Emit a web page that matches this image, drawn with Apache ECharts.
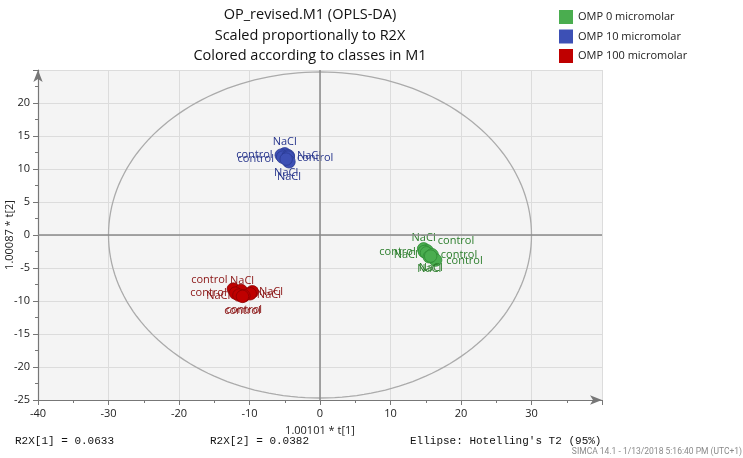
<!DOCTYPE html>
<html><head><meta charset="utf-8">
<script src="https://cdn.jsdelivr.net/npm/echarts@6/dist/echarts.min.js"></script>
<style>html,body{margin:0;padding:0;background:#fff}#chart{width:743px;height:458px}</style>
</head><body><div id="chart"></div>
<script>
// ---------------- data ----------------
const classNames = ['OMP 0 micromolar', 'OMP 10 micromolar', 'OMP 100 micromolar'];

const omp0X = [14.7, 15.2, 14.8, 15.1, 15.9, 16.4, 15.5, 15.7];
const omp0Y = [-2.1, -2.4, -2.5, -2.7, -3.0, -3.8, -3.3, -3.2];
const omp0Names = ['NaCl', 'control', 'control', 'NaCl', 'control', 'control', 'NaCl', 'NaCl'];

const omp10X = [-5.0, -5.5, -5.3, -4.5, -4.5, -4.4, -4.8];
const omp10Y = [12.3, 12.1, 11.8, 12.0, 11.8, 11.1, 11.5];
const omp10Names = ['NaCl', 'control', 'control', 'NaCl', 'control', 'NaCl', 'NaCl'];

const omp100X = [-12.3, -11.2, -12.0, -11.5, -9.6, -9.9, -10.8, -11.0];
const omp100Y = [-8.2, -8.4, -8.8, -9.1, -8.6, -8.9, -9.2, -9.3];
const omp100Names = ['control', 'NaCl', 'control', 'NaCl', 'NaCl', 'NaCl', 'control', 'control'];

const xAxisMin = -40, xAxisMax = 40, xAxisStep = 10;
const yAxisMin = -25, yAxisMax = 25, yAxisStep = 5;
const xHiddenTickLabels = [40];
const yHiddenTickLabels = [25];

// Hotelling's T2 (95%) ellipse semi-axes
const ellipseSemiX = 30.0;
const ellipseSemiY = 24.7;

const xAxisName = '1.00101 * t[1]';
const yAxisName = '1.00087 * t[2]';
const titleLines = ['OP_revised.M1 (OPLS-DA)', 'Scaled proportionally to R2X', 'Colored according to classes in M1'];
const footerStats = ['R2X[1] = 0.0633', 'R2X[2] = 0.0382', "Ellipse: Hotelling's T2 (95%)"];
const footerStamp = 'SIMCA 14.1 - 1/13/2018 5:16:40 PM (UTC+1)';

// ---------------- label placement (style only) ----------------
const omp0LabelPos = ['top', 'right', 'left', 'left', 'right', 'right', 'bottom', 'bottom'];
const omp0LabelShift = [[0, 3], [2, -10], [0, 0], [0, 2], [0, 0], [2, 1], [0, -2], [0, -2]];
const omp10LabelPos = ['top', 'left', 'left', 'right', 'right', 'bottom', 'bottom'];
const omp10LabelShift = [[0, 2], [0, 0], [0, 2], [0, 0], [0, 1], [0, 1], [0, 0]];
const omp100LabelPos = ['left', 'top', 'left', 'left', 'right', 'right', 'bottom', 'bottom'];
const omp100LabelShift = [[3, -9], [1, 5], [0, 0], [0, 1], [-2, 0], [-2, 1], [0, 0], [0, 0]];

const fillColors = ['#4aad4f', '#3d50b5', '#bf0000'];
const edgeColors = ['#2f8a35', '#2a3a92', '#8c0000'];
const labelColors = ['#2b7d2b', '#27358c', '#8a1414'];
const labelShifts = [omp0LabelShift, omp10LabelShift, omp100LabelShift];

function buildItems(xs, ys, names, pos) {
  return xs.map((x, i) => ({
    value: [x, ys[i]],
    name: names[i],
    label: { position: pos[i] }
  }));
}

const groups = [
  buildItems(omp0X, omp0Y, omp0Names, omp0LabelPos),
  buildItems(omp10X, omp10Y, omp10Names, omp10LabelPos),
  buildItems(omp100X, omp100Y, omp100Names, omp100LabelPos)
];

const chart = echarts.init(document.getElementById('chart'), null, { renderer: 'canvas' });

const axisCommon = {
  axisLine: { onZero: false, lineStyle: { color: '#777', width: 1.2 }, symbol: ['none', 'arrow'], symbolSize: [7, 12] },
  axisTick: { show: true, length: 5, lineStyle: { color: '#777' } },
  minorTick: { show: true, splitNumber: 2, length: 3, lineStyle: { color: '#777' } },
  splitLine: { show: true, lineStyle: { color: '#dcdcdc', width: 1 } },
  nameTextStyle: { fontSize: 11, color: '#222', fontFamily: 'Open Sans' }
};

const ellipseSeries = {
  type: 'custom',
  name: 'ellipse',
  silent: true,
  z: 1,
  data: [[0, 0]],
  renderItem: function (params, api) {
    const pts = [];
    const n = 180;
    for (let k = 0; k <= n; k++) {
      const t = (k / n) * Math.PI * 2;
      pts.push(api.coord([ellipseSemiX * Math.cos(t), ellipseSemiY * Math.sin(t)]));
    }
    return { type: 'polyline', shape: { points: pts }, style: { stroke: '#ababab', lineWidth: 1.3, fill: null } };
  },
  markLine: {
    silent: true, symbol: 'none', label: { show: false },
    lineStyle: { color: '#8a8a8a', width: 1.5, type: 'solid' },
    data: [{ xAxis: 0 }, { yAxis: 0 }]
  }
};

const scatterSeries = groups.map((items, g) => ({
  type: 'scatter',
  name: classNames[g],
  data: items,
  symbol: 'circle',
  symbolSize: 12.5,
  z: 3,
  itemStyle: { color: fillColors[g], borderColor: edgeColors[g], borderWidth: 0.8, opacity: 1 },
  label: {
    show: true, formatter: '{b}', distance: 2, fontSize: 11,
    color: labelColors[g], fontFamily: 'Open Sans'
  },
  labelLayout: function (params) {
    const s = labelShifts[g][params.dataIndex] || [0, 0];
    return { dx: s[0], dy: s[1], hideOverlap: false };
  },
  emphasis: { disabled: true }
}));

const titleGraphics = titleLines.map((t, i) => ({
  type: 'text', x: 310, y: 15 + i * 20.5,
  style: { text: t, fontSize: 14.5, fill: '#111', fontFamily: 'Open Sans', align: 'center', verticalAlign: 'middle' }
}));

const footerX = [15, 210, 410];
const footerGraphics = footerStats.map((t, i) => ({
  type: 'text', x: footerX[i], y: 441,
  style: { text: t, fontSize: 11, fill: '#111', fontFamily: 'Liberation Mono', verticalAlign: 'middle' }
}));
footerGraphics.push({
  type: 'text', x: 742, y: 452,
  style: { text: footerStamp, fontSize: 8.5, fill: '#8a8a8a', fontFamily: 'Roboto', align: 'right', verticalAlign: 'middle' }
});
footerGraphics.push({
  type: 'text', x: 10, y: 235, rotation: Math.PI / 2,
  style: { text: yAxisName, fontSize: 11, fill: '#222', fontFamily: 'Open Sans', align: 'center', verticalAlign: 'middle' }
});

chart.setOption({
  animation: false,
  backgroundColor: '#ffffff',
  textStyle: { fontFamily: 'Open Sans' },
  grid: {
    left: 38, right: 141, top: 70, bottom: 58, show: true, backgroundColor: '#f4f4f4', borderWidth: 0,
    containLabel: false, outerBoundsMode: 'none'
  },
  legend: {
    data: classNames, orient: 'vertical', left: 554, top: 5,
    itemWidth: 14, itemHeight: 14, itemGap: 5.5, icon: 'rect',
    itemStyle: { borderWidth: 0 },
    textStyle: { fontSize: 11, color: '#222', fontFamily: 'Open Sans' },
    selectedMode: false
  },
  xAxis: Object.assign({}, axisCommon, {
    type: 'value', min: xAxisMin, max: xAxisMax, interval: xAxisStep,
    name: xAxisName, nameLocation: 'middle', nameGap: 25,
    axisLabel: {
      fontSize: 11, color: '#222', margin: 8, fontFamily: 'Open Sans',
      formatter: v => xHiddenTickLabels.includes(v) ? '' : String(v)
    }
  }),
  yAxis: Object.assign({}, axisCommon, {
    type: 'value', min: yAxisMin, max: yAxisMax, interval: yAxisStep,
    axisLabel: {
      fontSize: 11, color: '#222', margin: 8, fontFamily: 'Open Sans',
      formatter: v => yHiddenTickLabels.includes(v) ? '' : String(v)
    }
  }),
  series: [ellipseSeries].concat(scatterSeries),
  graphic: titleGraphics.concat(footerGraphics)
});
</script></body></html>
